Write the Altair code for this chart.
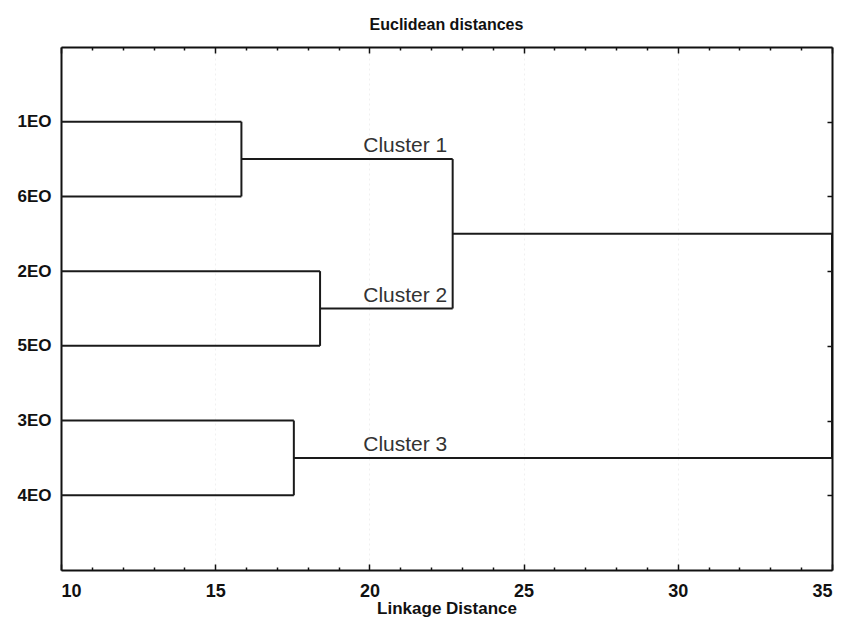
import altair as alt
import pandas as pd

# ---- data ----
leaves = ["1EO", "6EO", "2EO", "5EO", "3EO", "4EO"]
merge_left = ["1EO", "2EO", "3EO", "C1", "C12"]
merge_right = ["6EO", "5EO", "4EO", "C2", "C3"]
merge_dist = [15.85, 18.4, 17.55, 22.7, 35.0]
merge_node = ["C1", "C2", "C3", "C12", "C123"]
cluster_labels = ["Cluster 1", "Cluster 2", "Cluster 3"]
cluster_nodes = ["C1", "C2", "C3"]
x_ticks = list(range(10, 36))
x_min, x_max = 10, 35
label_x = 19.8

# ---- build dendrogram segments ----
pos = {name: i + 1 for i, name in enumerate(leaves)}
dist = {name: x_min for name in leaves}
rows = []
for a, b, h, n in zip(merge_left, merge_right, merge_dist, merge_node):
    rows.append(dict(x=dist[a], x2=h, y=pos[a], y2=pos[a]))
    rows.append(dict(x=dist[b], x2=h, y=pos[b], y2=pos[b]))
    rows.append(dict(x=h, x2=h, y=pos[a], y2=pos[b]))
    pos[n] = (pos[a] + pos[b]) / 2
    dist[n] = h
seg = pd.DataFrame(rows)
lab = pd.DataFrame({"label": cluster_labels, "x": [label_x] * 3,
                    "y": [pos[c] for c in cluster_nodes]})

xscale = alt.Scale(domain=[x_min, x_max], nice=False, zero=False)
yscale = alt.Scale(domain=[0, len(leaves) + 1], reverse=True, nice=False, zero=False)
tick_expr = {"expr": "datum.value % 5 === 0 ? -6 : -3"}
leaf_expr = "[" + ",".join("'%s'" % l for l in leaves) + "][datum.value - 1]"

rules = alt.Chart(seg).mark_rule(color="#1a1a1a", strokeWidth=2, clip=True).encode(
    x=alt.X("x:Q", scale=xscale, axis=alt.Axis(
        orient="bottom", values=x_ticks, title="Linkage Distance",
        labelExpr="datum.value % 5 === 0 ? datum.label : ''",
        labelFontSize=18, tickSize=tick_expr, labelPadding=18, titlePadding=0,
        grid=True, gridColor="#f0f0f0", gridDash=[2, 3],
        gridOpacity={"expr": "datum.value % 5 === 0 ? 1 : 0"})),
    x2="x2:Q",
    y=alt.Y("y:Q", scale=yscale, axis=alt.Axis(
        orient="left", values=list(range(1, len(leaves) + 1)), title=None,
        labelExpr=leaf_expr, ticks=False, labelPadding=10, labelFontSize=17,
        grid=False)),
    y2="y2:Q",
)

texts = alt.Chart(lab).mark_text(
    align="left", baseline="alphabetic", dy=-7, fontSize=21,
    font="Liberation Sans", color="#333333"
).encode(
    x=alt.X("x:Q", scale=xscale, axis=alt.Axis(
        orient="top", values=x_ticks, labels=False, title=None,
        tickSize=tick_expr, grid=False)),
    y=alt.Y("y:Q", scale=yscale, axis=alt.Axis(
        orient="right", values=list(range(1, len(leaves) + 1)), labels=False,
        title=None, tickSize={"expr": "-5"}, grid=False)),
    text="label:N",
)

chart = alt.layer(rules, texts).resolve_axis(
    x="independent", y="independent"
).properties(
    width=771, height=523,
    title=alt.TitleParams("Euclidean distances", font="Liberation Sans",
                          fontSize=16, fontWeight="bold", color="#111111", offset=13),
    autosize=alt.AutoSizeParams(type="none"),
    padding={"left": 53, "top": 39, "right": 4, "bottom": 49},
).configure_view(stroke=None).configure_axis(
    domainColor="#111111", domainWidth=2, tickColor="#111111", tickWidth=1.5,
    labelFont="Liberation Sans", labelFontWeight="bold",
    labelColor="#111111", titleFont="Liberation Sans", titleFontWeight="bold",
    titleFontSize=17, titleColor="#111111",
)

chart.save("out.html", embed_options={"renderer": "svg", "actions": False})
